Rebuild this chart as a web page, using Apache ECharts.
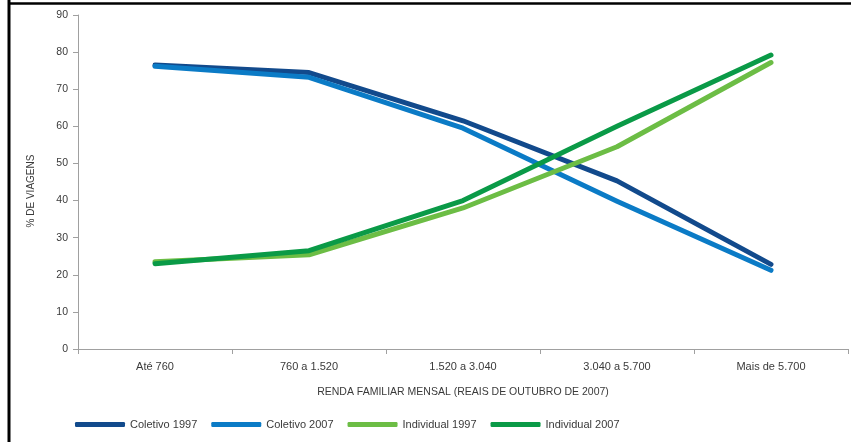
<!DOCTYPE html>
<html>
<head>
<meta charset="utf-8">
<script src="https://cdn.jsdelivr.net/npm/echarts@6/dist/echarts.min.js"></script>
<style>
  html, body { margin: 0; padding: 0; background: #fff; }
  #chart { width: 851px; height: 442px; }
</style>
</head>
<body>
<div id="chart"></div>
<script>
// Income brackets (R$ of October 2007)
const categories = ['Até 760', '760 a 1.520', '1.520 a 3.040', '3.040 a 5.700', 'Mais de 5.700'];

// Share of trips (%) by transport mode and year
const coletivo1997 = [76.5, 74.5, 61.5, 45.3, 22.8];
const coletivo2007 = [76.2, 73.2, 59.5, 39.8, 21.2];
const individual1997 = [23.5, 25.4, 38.0, 54.5, 77.2];
const individual2007 = [23.0, 26.5, 40.0, 60.0, 79.2];

const seriesNames = ['Coletivo 1997', 'Coletivo 2007', 'Individual 1997', 'Individual 2007'];
const seriesColors = ['#124a8c', '#0b7bc6', '#6cbd45', '#0a9a47'];
const seriesData = [coletivo1997, coletivo2007, individual1997, individual2007];

const font = '"Liberation Sans Narrow", "Liberation Sans", Arial, sans-serif';
const textColor = '#3a3a3a';
const axisColor = '#a0a0a0';

const chart = echarts.init(document.getElementById('chart'), null, { renderer: 'canvas' });

chart.setOption({
  backgroundColor: '#ffffff',
  animation: false,
  grid: { left: 78, right: 3, top: 15, bottom: 93, containLabel: false },
  legend: {
    left: 70,
    top: 414,
    itemWidth: 50,
    itemHeight: 5,
    itemGap: 14,
    icon: 'roundRect',
    textStyle: { fontFamily: font, fontSize: 11, color: textColor, padding: [0, 0, 0, 0] },
    data: seriesNames
  },
  xAxis: {
    type: 'category',
    data: categories,
    boundaryGap: true,
    name: 'RENDA FAMILIAR MENSAL (REAIS DE OUTUBRO DE 2007)',
    nameLocation: 'middle',
    nameGap: 38,
    nameTextStyle: { fontFamily: font, fontSize: 10.5, color: textColor },
    axisLine: { lineStyle: { color: axisColor, width: 1 } },
    axisTick: { show: true, length: 5, lineStyle: { color: axisColor } },
    axisLabel: { fontFamily: font, fontSize: 11, color: textColor, margin: 12 },
    splitLine: { show: false }
  },
  yAxis: {
    type: 'value',
    min: 0,
    max: 90,
    interval: 10,
    name: '% DE VIAGENS',
    nameLocation: 'middle',
    nameGap: 42,
    nameRotate: 90,
    nameTextStyle: { fontFamily: font, fontSize: 10, color: textColor, padding: [0, 18, 0, 0] },
    axisLine: { show: true, lineStyle: { color: axisColor, width: 1 } },
    axisTick: { show: true, length: 5, lineStyle: { color: axisColor } },
    axisLabel: { fontFamily: font, fontSize: 10.5, color: textColor, margin: 10 },
    splitLine: { show: false }
  },
  series: seriesData.map((d, i) => ({
    name: seriesNames[i],
    type: 'line',
    data: d,
    showSymbol: false,
    symbol: 'none',
    color: seriesColors[i],
    lineStyle: { width: 5, color: seriesColors[i], cap: 'round', join: 'round' },
    z: 2 + i
  })),
  graphic: [
    { type: 'line', shape: { x1: 9, y1: 0, x2: 9, y2: 442 }, style: { stroke: '#000', lineWidth: 3 }, silent: true },
    { type: 'line', shape: { x1: 8, y1: 3.5, x2: 851, y2: 3.5 }, style: { stroke: '#000', lineWidth: 2.5 }, silent: true }
  ]
});
</script>
</body>
</html>
